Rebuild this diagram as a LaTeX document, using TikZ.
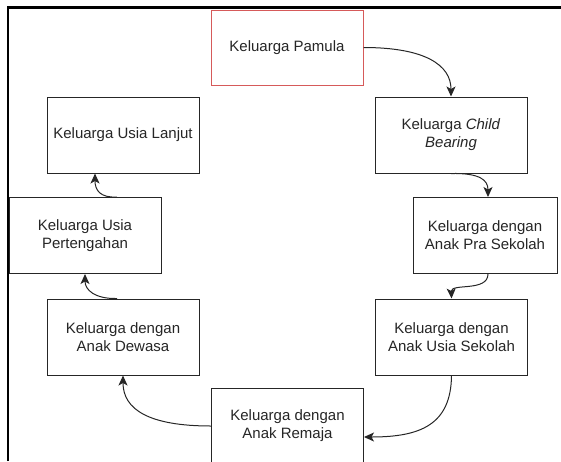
\documentclass[tikz,border=0pt]{standalone}
\usepackage{fontspec}
\setmainfont{Liberation Sans}
\usetikzlibrary{arrows.meta,calc}
\definecolor{boxred}{RGB}{214,90,90}
\begin{document}
\begin{tikzpicture}[x=1pt,y=-1pt,
  box/.style={draw=black!85, line width=1pt, fill=white, minimum width=152pt,
    minimum height=76pt, inner sep=0pt, align=center, text=black!85,
    font=\fontsize{15}{18}\selectfont},
  conn/.style={line width=1pt, draw=black!85, -{Stealth[length=10pt,width=9pt,inset=2.5pt]}},
  frame/.style={line width=2.2pt, draw=black}]
\useasboundingbox (0,0) rectangle (561,461);
\clip (0,0) rectangle (561,461);

\node[box, draw=boxred, minimum height=75pt] (pam) at (287,47.5) {Keluarga Pamula};
\node[box] (ul)  at (123,135)   {Keluarga Usia Lanjut};
\node[box] (cb)  at (451,135)   {Keluarga \textit{Child}\\\textit{Bearing}};
\node[box] (up)  at (85,235.5)  {Keluarga Usia\\Pertengahan};
\node[box, minimum width=144pt] (pra) at (485,235.5) {Keluarga dengan\\Anak Pra Sekolah};
\node[box] (dew) at (123,337)   {Keluarga dengan\\Anak Dewasa};
\node[box] (us)  at (451.5,337) {Keluarga dengan\\Anak Usia Sekolah};
\node[box] (rem) at (287.5,426) {Keluarga dengan\\Anak Remaja};

\draw[conn] (pam.east) .. controls (425,47.5) and (451,65) .. (cb.north);
\draw[conn] (cb.south) .. controls (480,173) and (488,180) .. ([xshift=3pt]pra.north);
\draw[conn] ([xshift=3pt]pra.south) .. controls (488,292) and (451,283) .. (us.north);
\draw[conn] (us.south) .. controls (451,425) and (420,437) .. ([yshift=-11pt]rem.east);
\draw[conn] (rem.west) .. controls (150,426) and (123,410) .. (dew.south);
\draw[conn] ([xshift=-6pt]dew.north) .. controls (95,299) and (85,290) .. (up.north |- up.south);
\draw[conn] ([xshift=32pt]up.north) .. controls (100,198) and (95,190) .. ([xshift=-28pt]ul.south);

\coordinate (fb) at (8,461);
\coordinate (fc) at (8,7.5);
\coordinate (fr) at (561,7.5);
\draw[frame] (fb) -- (fc) -- (fr);
\end{tikzpicture}
\end{document}
